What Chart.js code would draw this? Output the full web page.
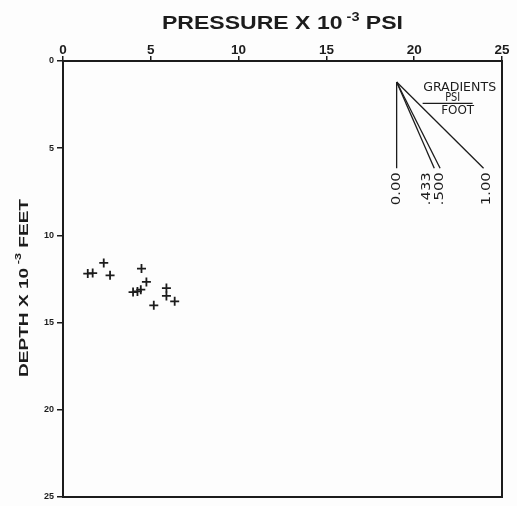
<!DOCTYPE html>
<html>
<head>
<meta charset="utf-8">
<script src="https://cdn.jsdelivr.net/npm/chart.js@4/dist/chart.umd.min.js"></script>
<style>
  html, body { margin: 0; padding: 0; background: #fdfdfd; }
  #wrap { width: 517px; height: 506px; }
</style>
</head>
<body>
<div id="wrap"><canvas id="c" width="517" height="506"></canvas></div>
<script>
// Measured formation pressures (thousands of psi) against depth (thousands of feet)
const pressureK = [1.41, 1.69, 2.32, 2.68, 4.47, 4.75, 3.99, 4.24, 4.43, 5.89, 5.89, 6.36, 5.17];
const depthK    = [12.19, 12.16, 11.58, 12.29, 11.90, 12.67, 13.25, 13.21, 13.11, 13.02, 13.47, 13.78, 14.01];

// Reference gradient fan (psi per foot) and its labels
const gradients      = [0.0, 0.433, 0.5, 1.0];
const gradientLabels = ['0.00', '.433', '.500', '1.00'];
const fanOrigin      = { x: 19.0, y: 1.2 };   // pressure, depth of the fan apex
const fanDepthEnd    = 6.15;                  // depth where the fan lines stop

// Axis ticks
const pressureTicks = [0, 5, 10, 15, 20, 25];
const depthTicks    = [0, 5, 10, 15, 20, 25];

const INK = '#1c1c1c';

const wellPoints = pressureK.map((p, i) => ({ x: p, y: depthK[i] }));

const fanSets = gradients.map(g => ({
  type: 'line',
  data: [
    { x: fanOrigin.x, y: fanOrigin.y },
    { x: fanOrigin.x + g * (fanDepthEnd - fanOrigin.y), y: fanDepthEnd }
  ],
  borderColor: INK,
  borderWidth: 1.3,
  pointRadius: 0,
  fill: false,
  tension: 0
}));

// Draws a string stretched to a given length, optionally rotated to read upward.
function stretchedText(ctx, parts, cx, cy, targetLen, vertical) {
  ctx.save();
  let natural = 0;
  parts.forEach(p => { ctx.font = p.font; natural += ctx.measureText(p.text).width; });
  const s = targetLen / natural;
  ctx.translate(cx, cy);
  if (vertical) ctx.rotate(-Math.PI / 2);
  ctx.scale(s, 1);
  let x = -natural / 2;
  ctx.textBaseline = 'alphabetic';
  ctx.textAlign = 'left';
  parts.forEach(p => {
    ctx.font = p.font;
    ctx.fillText(p.text, x, p.rise ? -p.rise : 0);
    x += ctx.measureText(p.text).width;
  });
  ctx.restore();
}

const decorations = {
  id: 'decorations',
  beforeDraw(chart) {
    const ctx = chart.ctx;
    ctx.save();
    ctx.fillStyle = '#fdfdfd';
    ctx.fillRect(0, 0, chart.width, chart.height);
    ctx.restore();
  },
  afterDraw(chart) {
    const ctx = chart.ctx;
    const a = chart.chartArea;
    const xs = chart.scales.x, ys = chart.scales.y;
    ctx.save();
    ctx.fillStyle = INK;
    ctx.strokeStyle = INK;

    // frame
    ctx.lineWidth = 2;
    ctx.strokeRect(a.left, a.top, a.right - a.left, a.bottom - a.top);

    // top axis title with superscript exponent
    const big = 'bold 19px "Liberation Sans", Arial, sans-serif';
    const sup = 'bold 12px "Liberation Sans", Arial, sans-serif';
    stretchedText(ctx, [
      { text: 'PRESSURE X 10', font: big },
      { text: ' -3', font: sup, rise: 8 },
      { text: ' PSI', font: big }
    ], (a.left + a.right) / 2, 28.5, 241, false);

    // left axis title, reading upward
    const mid = 'bold 13.5px "Liberation Sans", Arial, sans-serif';
    const sup2 = 'bold 9px "Liberation Sans", Arial, sans-serif';
    stretchedText(ctx, [
      { text: 'DEPTH X 10', font: mid },
      { text: ' -3', font: sup2, rise: 7 },
      { text: ' FEET', font: mid }
    ], 28, 288, 178, true);

    // gradient fan labels below each line end
    const nudge = [0, -7, 0, 3];
    gradients.forEach((g, i) => {
      const ex = xs.getPixelForValue(fanOrigin.x + g * (fanDepthEnd - fanOrigin.y));
      const ey = ys.getPixelForValue(fanDepthEnd);
      ctx.save();
      ctx.font = '11.5px "DejaVu Sans", sans-serif';
      const w = ctx.measureText(gradientLabels[i]).width;
      const len = 33;
      ctx.translate(ex + nudge[i], ey + 4);
      ctx.rotate(-Math.PI / 2);
      ctx.scale(len / w, 1);
      ctx.textAlign = 'right';
      ctx.textBaseline = 'middle';
      ctx.fillText(gradientLabels[i], 0, 0);
      ctx.restore();
    });

    // "GRADIENTS  PSI / FOOT" caption beside the fan apex
    const ox = xs.getPixelForValue(fanOrigin.x);
    const oy = ys.getPixelForValue(fanOrigin.y);
    const cap = '11.5px "DejaVu Sans", sans-serif';
    stretchedText(ctx, [{ text: 'GRADIENTS', font: cap }], ox + 63, oy + 9, 73, false);
    stretchedText(ctx, [{ text: 'PSI', font: cap }], ox + 56, oy + 19.5, 15, false);
    ctx.lineWidth = 1.2;
    ctx.beginPath();
    ctx.moveTo(ox + 26, oy + 21.5);
    ctx.lineTo(ox + 76, oy + 21.5);
    ctx.stroke();
    stretchedText(ctx, [{ text: 'FOOT', font: cap }], ox + 61, oy + 32, 33, false);
    ctx.restore();
  }
};

new Chart(document.getElementById('c'), {
  type: 'scatter',
  data: {
    datasets: [
      {
        data: wellPoints,
        pointStyle: 'cross',
        pointRadius: 4.5,
        pointBorderWidth: 1.8,
        borderColor: INK,
        backgroundColor: INK
      },
      ...fanSets
    ]
  },
  options: {
    responsive: false,
    animation: false,
    events: [],
    layout: { padding: { left: 0, top: 0, right: 15, bottom: 9 } },
    plugins: { legend: { display: false }, tooltip: { enabled: false }, title: { display: false } },
    scales: {
      x: {
        type: 'linear',
        position: 'top',
        min: 0, max: 25,
        afterBuildTicks: s => { s.ticks = pressureTicks.map(v => ({ value: v })); },
        afterFit: s => { s.height = 61; },
        grid: { display: true, drawOnChartArea: false, drawTicks: true, tickLength: 5, color: INK, lineWidth: 1.5 },
        border: { display: false },
        ticks: {
          color: INK,
          padding: -2,
          maxRotation: 0,
          font: { family: '"Liberation Sans", Arial, sans-serif', size: 13.5, weight: 'bold' }
        }
      },
      y: {
        type: 'linear',
        reverse: true,
        min: 0, max: 25,
        afterBuildTicks: s => { s.ticks = depthTicks.map(v => ({ value: v })); },
        afterFit: s => { s.width = 63; },
        grid: { display: true, drawOnChartArea: false, drawTicks: true, tickLength: 6, color: INK, lineWidth: 1.5 },
        border: { display: false },
        ticks: {
          color: INK,
          padding: 3,
          font: { family: '"Liberation Sans", Arial, sans-serif', size: 9, weight: 'bold' }
        }
      }
    }
  },
  plugins: [decorations]
});
</script>
</body>
</html>
